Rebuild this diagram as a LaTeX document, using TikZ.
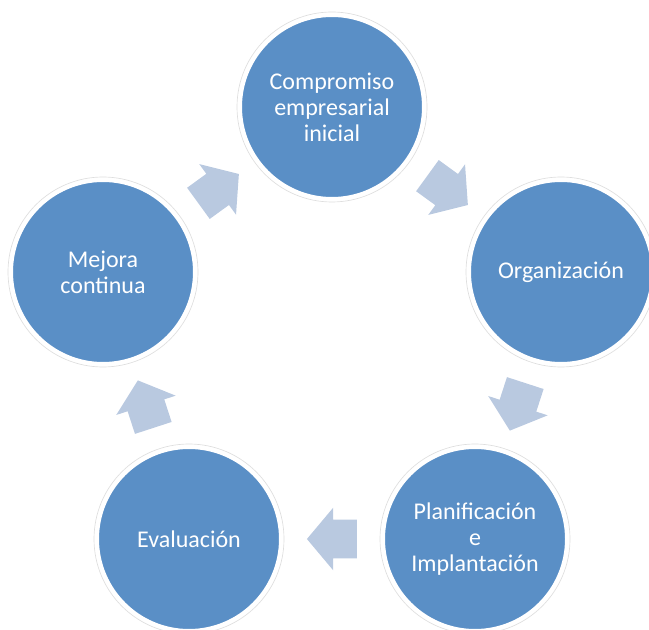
\documentclass[tikz,border=0pt]{standalone}
\usepackage{fontspec}
\setmainfont{Carlito}
\usetikzlibrary{shapes.arrows,calc}
\definecolor{circblue}{RGB}{90,143,198}
\definecolor{arrblue}{RGB}{185,201,224}
\begin{document}
\begin{tikzpicture}[x=0.75pt,y=-0.75pt,
  stage/.style={circle, fill=circblue, draw=white, line width=3pt, minimum size=138pt,
    inner sep=0pt, text=white, font=\fontsize{18}{19.5}\selectfont, align=center},
  ring/.style={draw=black!13, line width=0.5pt},
  cyclearrow/.style={single arrow, fill=arrblue, draw=none, minimum height=37.5pt,
    minimum width=46.5pt, single arrow head extend=9pt, single arrow tip angle=100,
    inner xsep=0pt, inner ysep=14.25pt}]
\useasboundingbox (0,0) rectangle (649,630);
\clip (0,0) rectangle (649,630);
\node[stage] (c1) at (332,107) {Compromiso\\empresarial\\inicial};
\node[stage] (c2) at (561,272) {Organización};
\node[stage] (c3) at (475,539) {Planificación\\e\\Implantación};
\node[stage] (c4) at (189,539) {Evaluación};
\node[stage] (c5) at (103,272) {Mejora\\continua};
\foreach \n in {c1,c2,c3,c4,c5} \draw[ring] (\n) circle[radius=71.25pt];
\node[cyclearrow, rotate=-36, xshift=-5pt] (a1) at ($(c1)!0.5!(c2)$) {};
\node[cyclearrow, rotate=-108, xshift=-5pt] (a2) at ($(c2)!0.5!(c3)$) {};
\node[cyclearrow, rotate=180, xshift=-6pt] (a3) at ($(c3)!0.5!(c4)$) {};
\node[cyclearrow, rotate=108, xshift=-5pt] (a4) at ($(c4)!0.5!(c5)$) {};
\node[cyclearrow, rotate=36, xshift=-5pt] (a5) at ($(c5)!0.5!(c1)$) {};
\end{tikzpicture}
\end{document}
